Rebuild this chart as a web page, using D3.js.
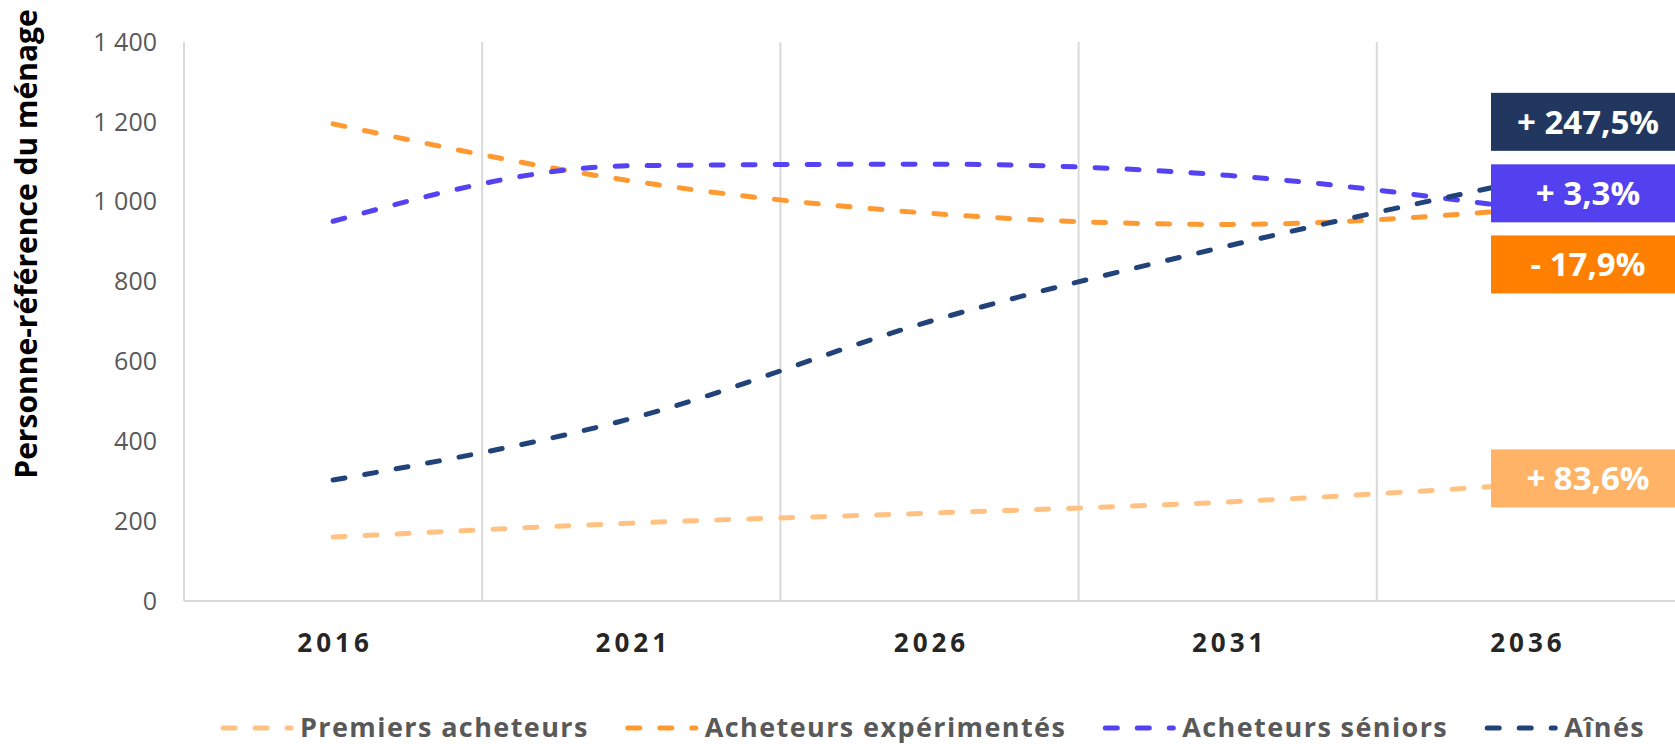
<!DOCTYPE html>
<html>
<head>
<meta charset="utf-8">
<script src="https://cdn.jsdelivr.net/npm/d3@7"></script>
<style>
  body { margin: 0; background: #fff; }
  text { font-family: "Open Sans", sans-serif; }
</style>
</head>
<body>
<div id="chart"></div>
<script>
// data
const years = ["2016", "2021", "2026", "2031", "2036"];
const premiers = [160, 195, 220, 248, 292];
const experimentes = [1195, 1052, 971, 943, 981];
const seniors = [951, 1090, 1094, 1066, 982];
const aines = [303, 457, 700, 889, 1053];

const seriesNames = ["Premiers acheteurs", "Acheteurs expérimentés", "Acheteurs séniors", "Aînés"];
const lineColors = ["#ffc283", "#ff9a33", "#5542f2", "#22427a"];
const boxColors = ["#ffb366", "#ff8000", "#5340ef", "#21375f"];

const yTicks = [0, 200, 400, 600, 800, 1000, 1200, 1400];

// change labels shown at the right, and where they sit (in data units)
const changeLabels = ["+ 83,6%", "- 17,9%", "+ 3,3%", "+ 247,5%"];
const changeLabelAt = [307, 843, 1021, 1200];

const W = 1675, H = 744;
const margin = {top: 42, right: 0, bottom: 143, left: 184};

const svg = d3.select("#chart").append("svg")
  .attr("width", W)
  .attr("height", H);

const x = d3.scaleBand()
  .domain(years)
  .range([margin.left, W - margin.right]);

const y = d3.scaleLinear()
  .domain([0, 1400])
  .range([H - margin.bottom, margin.top]);

// vertical grid lines (category boundaries)
svg.append("g")
  .selectAll("line")
  .data(years.slice(1))
  .enter()
  .append("line")
  .attr("x1", d => x(d)).attr("x2", d => x(d))
  .attr("y1", y(1400)).attr("y2", y(0))
  .attr("stroke", "#d9d9d9")
  .attr("stroke-width", 2);

// axis lines
svg.append("line")
  .attr("x1", margin.left).attr("x2", margin.left)
  .attr("y1", y(1400)).attr("y2", y(0))
  .attr("stroke", "#d9d9d9").attr("stroke-width", 2);
svg.append("line")
  .attr("x1", margin.left).attr("x2", W)
  .attr("y1", y(0)).attr("y2", y(0))
  .attr("stroke", "#d9d9d9").attr("stroke-width", 2);

// y tick labels
const fmt = v => d3.format(",")(v).replace(/,/g, " ");
svg.append("g")
  .selectAll("text")
  .data(yTicks)
  .enter()
  .append("text")
  .attr("x", 157)
  .attr("y", d => y(d))
  .attr("dy", "0.35em")
  .attr("text-anchor", "end")
  .attr("font-size", 25)
  .attr("fill", "#595959")
  .text(fmt);

// x tick labels
svg.append("g")
  .selectAll("text")
  .data(years)
  .enter()
  .append("text")
  .attr("x", d => x(d) + x.bandwidth() / 2 + 2)
  .attr("y", 643)
  .attr("dy", "0.35em")
  .attr("text-anchor", "middle")
  .attr("font-size", 26)
  .attr("font-weight", "bold")
  .attr("letter-spacing", 4)
  .attr("fill", "#262626")
  .text(d => d);

// y title
svg.append("text")
  .attr("transform", "translate(26,244) rotate(-90)")
  .attr("dy", "0.35em")
  .attr("text-anchor", "middle")
  .attr("font-size", 30)
  .attr("font-weight", "bold")
  .attr("fill", "#000")
  .text("Personne-référence du ménage");

// lines
const allSeries = [premiers, experimentes, seniors, aines];
const line = d3.line()
  .x((d, i) => x(years[i]) + x.bandwidth() / 2)
  .y(d => y(d))
  .curve(d3.curveMonotoneX);

svg.append("g")
  .selectAll("path")
  .data(allSeries)
  .enter()
  .append("path")
  .attr("d", d => line(d))
  .attr("fill", "none")
  .attr("stroke", (d, i) => lineColors[i])
  .attr("stroke-width", 5)
  .attr("stroke-linecap", "round")
  .attr("stroke-dasharray", "12 20");

// change boxes
const boxH = 58;
const boxes = svg.append("g")
  .selectAll("g")
  .data(changeLabels)
  .enter()
  .append("g");
boxes.append("rect")
  .attr("x", 1491)
  .attr("y", (d, i) => y(changeLabelAt[i]) - boxH / 2)
  .attr("width", W - 1491)
  .attr("height", boxH)
  .attr("fill", (d, i) => boxColors[i]);
boxes.append("text")
  .attr("x", 1588)
  .attr("y", (d, i) => y(changeLabelAt[i]))
  .attr("dy", "0.36em")
  .attr("text-anchor", "middle")
  .attr("font-size", 33)
  .attr("font-weight", "bold")
  .attr("fill", "#fff")
  .text(d => d);

// legend, laid out left to right
const legend = svg.append("g");
let lx = 221;
seriesNames.forEach((name, i) => {
  const item = legend.append("g").attr("transform", "translate(" + lx + ",728)");
  item.append("line")
    .attr("x1", 2).attr("x2", 70)
    .attr("y1", 0).attr("y2", 0)
    .attr("stroke", lineColors[i])
    .attr("stroke-width", 5)
    .attr("stroke-linecap", "round")
    .attr("stroke-dasharray", "12 20");
  const t = item.append("text")
    .attr("x", 79)
    .attr("y", 0)
    .attr("dy", "0.35em")
    .attr("font-size", 27)
    .attr("font-weight", "bold")
    .attr("letter-spacing", 1.4)
    .attr("fill", "#595959")
    .text(name);
  lx += 79 + t.node().getComputedTextLength() + 37;
});
</script>
</body>
</html>
